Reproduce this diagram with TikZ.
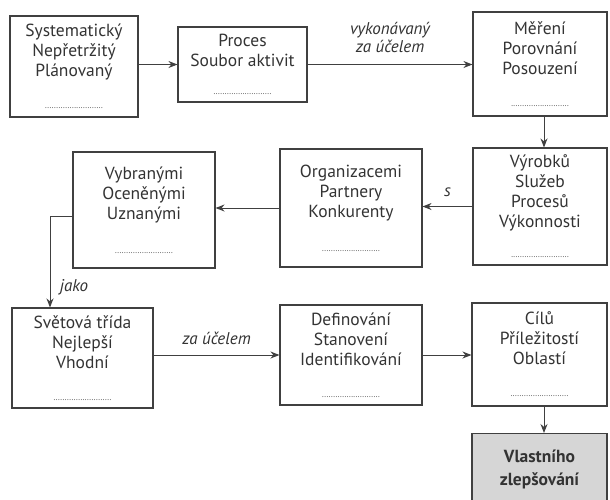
\documentclass[tikz,border=0pt]{standalone}
\usepackage{fontspec}
\setmainfont{PT Sans}
\usepackage{xcolor}
\usetikzlibrary{arrows.meta,positioning}
\definecolor{linka}{HTML}{404040}
\definecolor{sedaVypln}{HTML}{D6D6D6}
\newcommand{\tecky}{{\fontsize{8}{8}\selectfont ..........................}}

\begin{document}
\begin{tikzpicture}[x=1pt,y=-1pt,
    blok/.style={draw=linka,line width=1.1pt,align=center,inner sep=2pt,
                 font=\fontsize{17.5}{20}\selectfont,text=black!80},
    popis/.style={font=\itshape\fontsize{17}{18}\selectfont,text=black!80,align=center},
    sipka/.style={-{Stealth[length=9pt,width=7pt]},line width=1pt,draw=linka}]
    \useasboundingbox (0,0) rectangle (610,499);
    % first row
    \node[blok,minimum width=128pt,minimum height=101pt] (sys) at (74,66.5)
        {Systematický\\Nepřetržitý\\Plánovaný\\[12pt]\tecky};
    \node[blok,minimum width=129pt,minimum height=75pt] (proc) at (242.5,64.5)
        {Proces\\Soubor aktivit\\[8pt]\tecky};
    \node[blok,minimum width=134pt,minimum height=104pt] (mer) at (540,64)
        {Měření\\Porovnání\\Posouzení\\[12pt]\tecky};
    % second row
    \node[blok,minimum width=134pt,minimum height=117pt] (vyr) at (540,206.5)
        {Výrobků\\Služeb\\Procesů\\Výkonnosti\\[10pt]\tecky};
    \node[blok,minimum width=142pt,minimum height=118pt] (org) at (351,208)
        {Organizacemi\\Partnery\\Konkurenty\\[14pt]\tecky};
    \node[blok,minimum width=142pt,minimum height=116pt] (vyb) at (144,210)
        {Vybranými\\Oceněnými\\Uznanými\\[14pt]\tecky};
    % third row
    \node[blok,minimum width=141pt,minimum height=100pt] (svet) at (82.5,358)
        {Světová třída\\Nejlepší\\Vhodní\\[12pt]\tecky};
    \node[blok,minimum width=142pt,minimum height=100pt] (def) at (351,355)
        {Definování\\Stanovení\\Identifikování\\[12pt]\tecky};
    \node[blok,minimum width=135pt,minimum height=103pt] (cil) at (539.5,354.5)
        {Cílů\\Příležitostí\\Oblastí\\[12pt]\tecky};
    \node[blok,fill=sedaVypln,anchor=north,minimum width=135pt,minimum height=72pt,
          font=\bfseries\fontsize{17.5}{23}\selectfont] (vla) at (539.5,433)
        {Vlastního\\zlepšování};
    \coordinate (zalom) at (50,216);
    % connectors
    \draw[sipka] (sys.east |- proc.west) -- (proc.west);
    \draw[sipka] (proc.east) -- node[popis,above=8pt] {vykonávaný\\za účelem} (mer.west |- proc.east);
    \draw[sipka] (mer.south -| 544,0) -- (vyr.north -| 544,0);
    \draw[sipka] (vyr.west) -- node[popis,above=6pt] {s} (org.east |- vyr.west);
    \draw[sipka] (org.west) -- (vyb.east |- org.west);
    \draw[sipka] (vyb.west |- zalom) -- (zalom) -- node[popis,right=6pt,pos=0.78] {jako} (zalom |- svet.north);
    \draw[sipka] (svet.east |- def.west) -- node[popis,above=6pt] {za účelem} (def.west);
    \draw[sipka] (def.east) -- (cil.west |- def.east);
    \draw[sipka] (cil.south -| 544,0) -- (vla.north -| 544,0);
\end{tikzpicture}
\end{document}
